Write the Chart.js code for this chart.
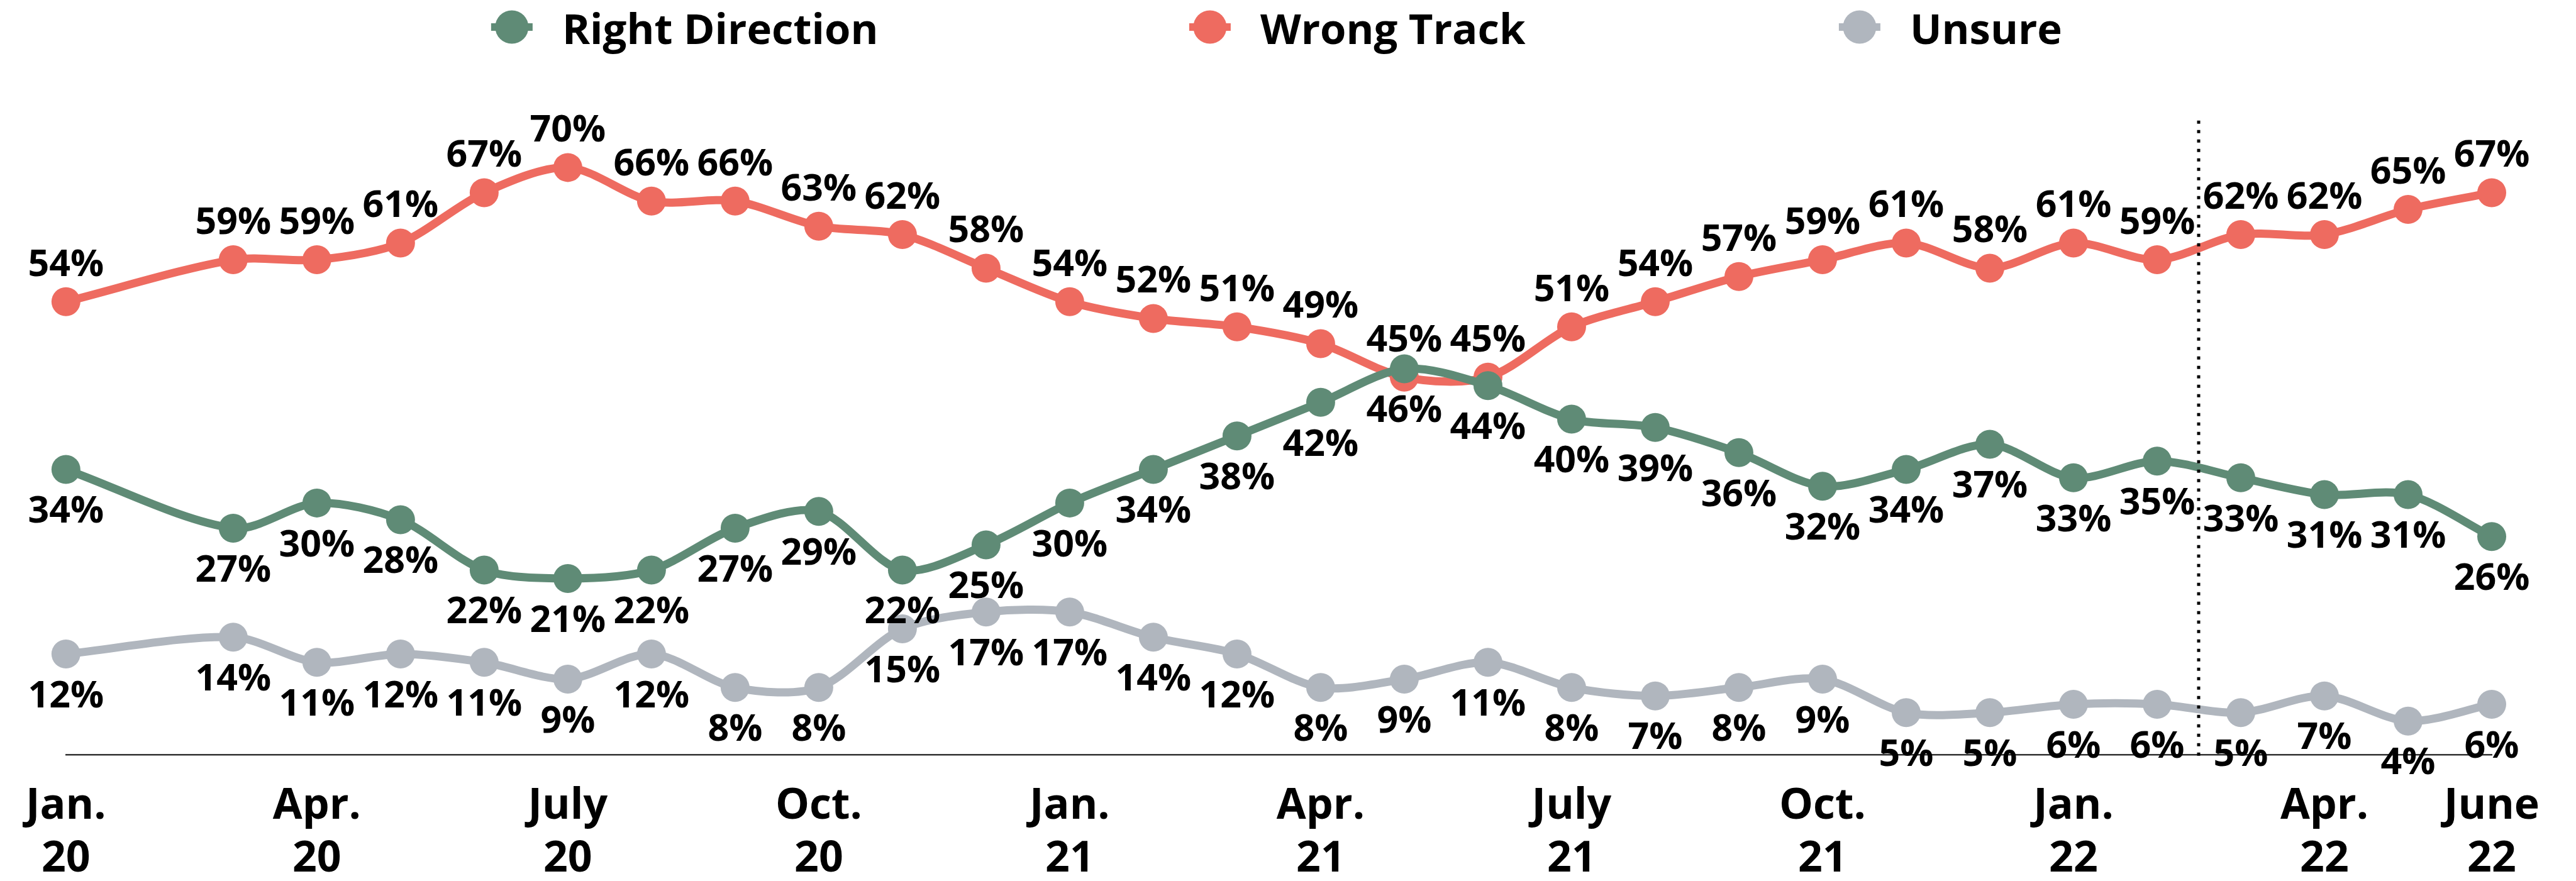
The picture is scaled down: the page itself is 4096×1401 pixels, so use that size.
<!DOCTYPE html>
<html>
<head>
<meta charset="utf-8">
<script src="https://cdn.jsdelivr.net/npm/chart.js@4.4.1/dist/chart.umd.min.js"></script>
<style>
  html, body { margin: 0; padding: 0; background: #fff; }
  #wrap { width: 4096px; height: 1401px; position: relative; }
</style>
</head>
<body>
<div id="wrap"><canvas id="chart" width="4096" height="1401"></canvas></div>
<script>
// === Data ===
const surveyMonths = [
  "2020-01", "2020-03", "2020-04", "2020-05", "2020-06", "2020-07", "2020-08", "2020-09", "2020-10", "2020-11", "2020-12",
  "2021-01", "2021-02", "2021-03", "2021-04", "2021-05", "2021-06", "2021-07", "2021-08", "2021-09", "2021-10", "2021-11", "2021-12",
  "2022-01", "2022-02", "2022-03", "2022-04", "2022-05", "2022-06"
];
const rightDirection = [34, 27, 30, 28, 22, 21, 22, 27, 29, 22, 25, 30, 34, 38, 42, 46, 44, 40, 39, 36, 32, 34, 37, 33, 35, 33, 31, 31, 26];
const wrongTrack = [54, 59, 59, 61, 67, 70, 66, 66, 63, 62, 58, 54, 52, 51, 49, 45, 45, 51, 54, 57, 59, 61, 58, 61, 59, 62, 62, 65, 67];
const unsure = [12, 14, 11, 12, 11, 9, 12, 8, 8, 15, 17, 17, 14, 12, 8, 9, 11, 8, 7, 8, 9, 5, 5, 6, 6, 5, 7, 4, 6];

const tickMonths = ["2020-01", "2020-04", "2020-07", "2020-10", "2021-01", "2021-04", "2021-07", "2021-10", "2022-01", "2022-04", "2022-06"];
const tickLabels = [
  ["Jan.", "20"], ["Apr.", "20"], ["July", "20"], ["Oct.", "20"],
  ["Jan.", "21"], ["Apr.", "21"], ["July", "21"], ["Oct.", "21"],
  ["Jan.", "22"], ["Apr.", "22"], ["June", "22"]
];
// dotted divider sits between Feb. and Mar. 2022
const dividerAfter = "2022-02";

const FONT = '"Open Sans", "Noto Sans", sans-serif';
const GREEN = "#5f8b76";
const RED = "#ee6b60";
const GREY = "#b0b6be";

// months since Jan. 2020
function monthIndex(ym) {
  const [y, m] = ym.split("-").map(Number);
  return (y - 2020) * 12 + (m - 1);
}

function toPoints(values) {
  return values.map((v, i) => ({ x: monthIndex(surveyMonths[i]), y: v }));
}

const tickValues = tickMonths.map(monthIndex);

function lineDataset(label, values, color, side) {
  return {
    label: label,
    data: toPoints(values),
    borderColor: color,
    backgroundColor: color,
    pointBackgroundColor: color,
    pointBorderWidth: 0,
    pointRadius: 23,
    pointHoverRadius: 23,
    borderWidth: 13,
    tension: 0.3,
    clip: false,
    labelSide: side,
  };
}

// === Legend, divider and value labels ===
const extras = {
  id: "extras",
  afterDatasetsDraw(chart) {
    const ctx = chart.ctx;
    const xs = chart.scales.x;
    const ys = chart.scales.y;

    // dotted divider
    const dx = Math.round(xs.getPixelForValue(monthIndex(dividerAfter) + 0.5));
    ctx.save();
    ctx.strokeStyle = "#000";
    ctx.lineWidth = 5;
    ctx.setLineDash([5, 10]);
    ctx.beginPath();
    ctx.moveTo(dx, ys.getPixelForValue(75.6));
    ctx.lineTo(dx, chart.chartArea.bottom + 3);
    ctx.stroke();
    ctx.restore();

    // value labels
    ctx.save();
    ctx.font = "bold 59px " + FONT;
    ctx.fillStyle = "#000";
    ctx.textAlign = "center";
    ctx.textBaseline = "middle";
    chart.data.datasets.forEach((ds, i) => {
      const meta = chart.getDatasetMeta(i);
      meta.data.forEach((pt, j) => {
        const dy = ds.labelSide === "above" ? -58 : 68;
        ctx.fillText(ds.data[j].y + "%", pt.x, pt.y + dy);
      });
    });
    ctx.restore();
  },
  afterDraw(chart) {
    const ctx = chart.ctx;
    const centers = [0.1987, 0.4697, 0.7219]; // marker centres as share of width
    ctx.save();
    ctx.font = "bold 67px " + FONT;
    ctx.textBaseline = "alphabetic";
    ctx.textAlign = "left";
    chart.data.datasets.forEach((ds, i) => {
      const cx = chart.width * centers[i];
      const cy = 43;
      ctx.fillStyle = ds.borderColor;
      ctx.fillRect(cx - 33, cy - 6, 66, 12);
      ctx.beginPath();
      ctx.arc(cx, cy, 26.5, 0, Math.PI * 2);
      ctx.fill();
      ctx.fillStyle = "#000";
      ctx.fillText(ds.label, cx + 80, 70);
    });
    ctx.restore();
  }
};

// === Chart ===
const chart = new Chart(document.getElementById("chart").getContext("2d"), {
  type: "line",
  data: {
    datasets: [
      lineDataset("Right Direction", rightDirection, GREEN, "below"),
      lineDataset("Wrong Track", wrongTrack, RED, "above"),
      lineDataset("Unsure", unsure, GREY, "below"),
    ],
  },
  options: {
    responsive: false,
    animation: false,
    devicePixelRatio: 1,
    layout: { padding: { top: 133, left: 93, right: 134, bottom: 0 } },
    plugins: {
      legend: { display: false },
      tooltip: { enabled: false },
    },
    events: [],
    scales: {
      x: {
        type: "linear",
        min: 0,
        max: monthIndex(surveyMonths[surveyMonths.length - 1]),
        afterBuildTicks: (axis) => {
          axis.ticks = tickValues.map(v => ({ value: v }));
        },
        afterFit: (axis) => {
          axis.height = 201;
        },
        ticks: {
          autoSkip: false,
          maxRotation: 0,
          padding: 41,
          color: "#000",
          font: { family: FONT, size: 68, weight: "bold", lineHeight: 84 / 68 },
          callback: (value) => {
            const k = tickValues.indexOf(value);
            return k >= 0 ? tickLabels[k] : "";
          },
        },
        grid: { drawOnChartArea: false, drawTicks: false },
        border: { display: true, color: "#333", width: 2.5 },
      },
      y: {
        display: false,
        min: 0,
        max: 80,
      },
    },
  },
  plugins: [extras],
});
</script>
</body>
</html>
